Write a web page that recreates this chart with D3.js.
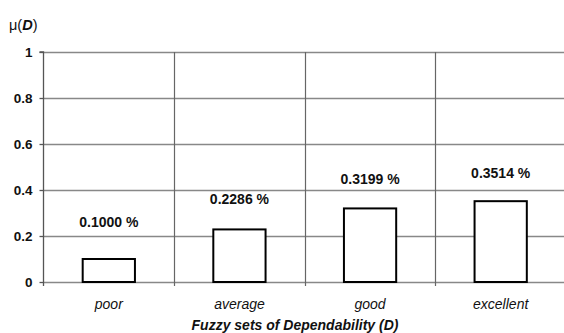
<!DOCTYPE html>
<html>
<head>
<meta charset="utf-8">
<script src="https://cdn.jsdelivr.net/npm/d3@7"></script>
<style>
  body { margin: 0; background: #fff; }
  text { font-family: "Liberation Sans", Arial, sans-serif; }
</style>
</head>
<body>
<svg id="paper"></svg>
<script>
let categories = ["poor", "average", "good", "excellent"];
let values = [0.1000, 0.2286, 0.3199, 0.3514];
let valueLabels = ["0.1000 %", "0.2286 %", "0.3199 %", "0.3514 %"];
// label positions, in data units
let labelPos = [0.26, 0.36, 0.447, 0.474];
let yTicks = [0, 0.2, 0.4, 0.6, 0.8, 1];

let width = 564, height = 333;
let margin = {top: 52, right: -2, bottom: 51, left: 43.5};

let svg = d3.select("#paper")
    .attr("width", width)
    .attr("height", height);

let x = d3.scaleBand()
    .domain(categories)
    .range([margin.left, width - margin.right])
    .paddingInner(0)
    .paddingOuter(0);

let y = d3.scaleLinear()
    .domain([0, 1])
    .range([height - margin.bottom, margin.top]);

// horizontal gridlines
svg.append("g")
    .selectAll("line")
    .data(yTicks)
    .enter()
    .append("line")
    .attr("x1", margin.left)
    .attr("x2", width)
    .attr("y1", d => Math.round(y(d)) + 0.5)
    .attr("y2", d => Math.round(y(d)) + 0.5)
    .attr("stroke", "#888")
    .attr("stroke-width", 1.3);

// vertical category separators
svg.append("g")
    .selectAll("line")
    .data(categories.slice(1))
    .enter()
    .append("line")
    .attr("x1", d => Math.round(x(d)) + 0.5)
    .attr("x2", d => Math.round(x(d)) + 0.5)
    .attr("y1", y(1))
    .attr("y2", y(0) + 4)
    .attr("stroke", "#666")
    .attr("stroke-width", 1.2);

// y axis
let yAxis = d3.axisLeft(y)
    .tickValues(yTicks)
    .tickFormat(d => d3.format("~g")(d))
    .tickSize(4)
    .tickPadding(7);

let ya = svg.append("g")
    .attr("transform", "translate(" + margin.left + ",0)")
    .call(yAxis);
ya.select(".domain").attr("stroke", "#555").attr("stroke-width", 1.3)
    .attr("d", "M-4," + y(1) + "H0V" + (y(0) + 4));
ya.selectAll(".tick line").attr("stroke", "#555").attr("stroke-width", 1.3);
ya.selectAll(".tick text")
    .style("font-size", "13.5px")
    .style("font-weight", "bold")
    .attr("fill", "#111");

// bars
svg.append("g")
    .selectAll("rect")
    .data(values)
    .enter()
    .append("rect")
    .attr("x", (d, i) => x(categories[i]) + x.bandwidth() * 0.3)
    .attr("width", x.bandwidth() * 0.4)
    .attr("y", d => y(d))
    .attr("height", d => y(0) - y(d))
    .attr("fill", "#fff")
    .attr("stroke", "#000")
    .attr("stroke-width", 2);

// value labels
svg.append("g")
    .selectAll("text")
    .data(valueLabels)
    .enter()
    .append("text")
    .attr("x", (d, i) => x(categories[i]) + x.bandwidth() / 2)
    .attr("y", (d, i) => y(labelPos[i]))
    .attr("dy", "0.35em")
    .attr("text-anchor", "middle")
    .style("font-size", "14px")
    .style("font-weight", "bold")
    .attr("fill", "#111")
    .text(d => d);

// category labels
svg.append("g")
    .selectAll("text")
    .data(categories)
    .enter()
    .append("text")
    .attr("x", d => x(d) + x.bandwidth() / 2)
    .attr("y", y(0) + 22)
    .attr("dy", "0.35em")
    .attr("text-anchor", "middle")
    .style("font-size", "14px")
    .style("font-style", "italic")
    .attr("fill", "#111")
    .text(d => d);

// x axis title
svg.append("text")
    .attr("x", 295)
    .attr("y", 325.5)
    .attr("dy", "0.35em")
    .attr("text-anchor", "middle")
    .style("font-size", "14px")
    .style("font-weight", "bold")
    .style("font-style", "italic")
    .attr("fill", "#111")
    .text("Fuzzy sets of Dependability (D)");

// y axis title
let yt = svg.append("text")
    .attr("x", 9)
    .attr("y", 25)
    .attr("dy", "0.35em")
    .style("font-size", "14.5px")
    .attr("fill", "#111");
yt.append("tspan").text("\u03bc(");
yt.append("tspan").style("font-weight", "bold").style("font-style", "italic").text("D");
yt.append("tspan").text(")");
</script>
</body>
</html>
